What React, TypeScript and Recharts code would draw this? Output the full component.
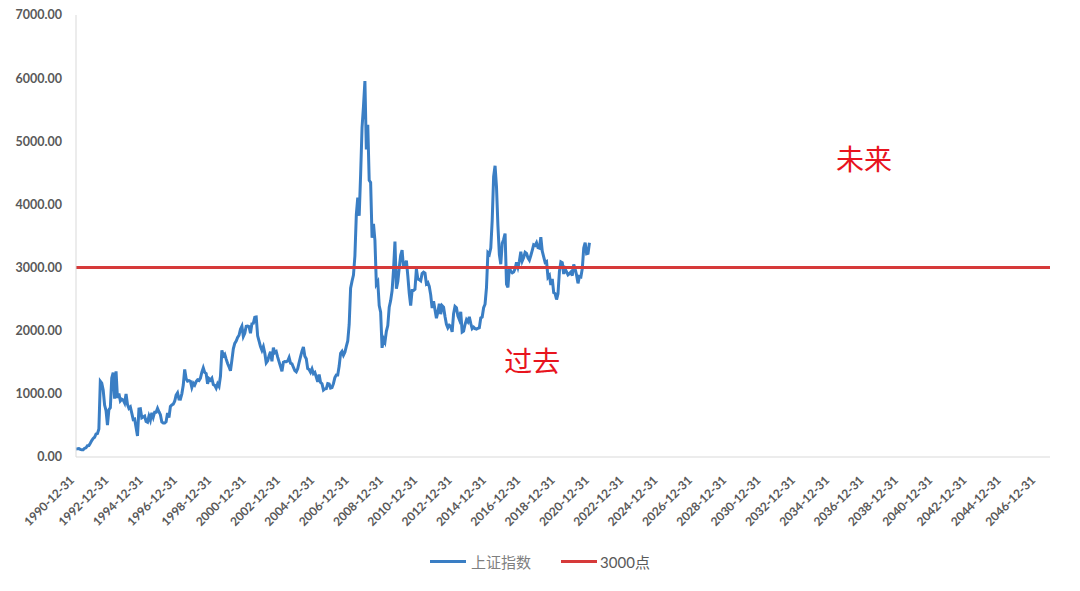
import { LineChart, Line, XAxis, YAxis, ReferenceLine, ReferenceDot } from "recharts"

// month-end closes of the Shanghai Composite, starting 1990-12
const closes1990s = [
  128,
  130, 133, 120, 114, 115, 138, 145, 178, 181, 219, 260, 293,
  313, 364, 370, 445, 1200, 1170, 1060, 823, 733, 507, 749, 780,
  1253, 1336, 925, 1358, 935, 1007, 888, 915, 902, 855, 1000, 833,
  770, 792, 694, 592, 600, 467, 334, 761, 765, 620, 633, 648,
  562, 550, 648, 582, 700, 630, 710, 710, 770, 716, 671, 555,
  538, 538, 558, 695, 625, 800, 824, 837, 883, 979, 1015, 917,
  915, 1000, 1140, 1387, 1240, 1202, 1210, 1200, 1100, 1168, 1139, 1194,
  1223, 1212, 1250, 1342, 1411, 1339, 1322, 1160, 1240, 1217, 1248, 1147,
  1134, 1090, 1158, 1120, 1279, 1689, 1601, 1627, 1550, 1480, 1428, 1367,
]

const closes2000s = [
  1535, 1714, 1800, 1836, 1894, 1928, 2023, 2072, 1911, 1961, 2070, 2073,
  2065, 1961, 2112, 2119, 2214, 2218, 1920, 1834, 1749, 1690, 1748, 1646,
  1491, 1524, 1603, 1667, 1515, 1732, 1651, 1669, 1581, 1507, 1434, 1358,
  1500, 1511, 1510, 1521, 1576, 1487, 1476, 1421, 1367, 1349, 1397, 1497,
  1590, 1675, 1742, 1595, 1555, 1399, 1386, 1342, 1396, 1320, 1340, 1267,
  1191, 1306, 1181, 1160, 1060, 1080, 1083, 1162, 1155, 1092, 1099, 1161,
  1258, 1299, 1298, 1440, 1642, 1672, 1612, 1658, 1752, 1837, 2099, 2675,
  2786, 2881, 3183, 3841, 4109, 3820, 4471, 5218, 5552, 5954, 4871, 5262,
  4383, 4348, 3472, 3693, 3433, 2736, 2775, 2397, 2293, 1729, 1871, 1821,
  1991, 2082, 2373, 2477, 2632, 2959, 3412, 2667, 2779, 2996, 3195, 3277,
]

const closes2010s = [
  2989, 3051, 3109, 2870, 2592, 2398, 2638, 2638, 2656, 2979, 2820, 2808,
  2790, 2905, 2928, 2911, 2743, 2762, 2701, 2568, 2359, 2468, 2333, 2199,
  2292, 2428, 2262, 2396, 2373, 2225, 2103, 2047, 2086, 2069, 1980, 2269,
  2385, 2365, 2237, 2177, 2300, 1979, 1994, 2098, 2175, 2141, 2220, 2116,
  2033, 2056, 2033, 2026, 2039, 2048, 2202, 2217, 2364, 2420, 2683, 3235,
  3210, 3310, 3748, 4442, 4612, 4277, 3664, 3206, 3053, 3383, 3445, 3539,
  2738, 2688, 3004, 2938, 2917, 2930, 2979, 3085, 3005, 3100, 3250, 3104,
  3159, 3242, 3223, 3155, 3117, 3192, 3273, 3361, 3349, 3393, 3317, 3307,
  3481, 3259, 3169, 3082, 3095, 2847, 2876, 2725, 2821, 2603, 2588, 2494,
  2585, 2941, 3091, 3078, 2899, 2979, 2933, 2886, 2905, 2929, 2872, 3050,
]

const closes2020 = [2977, 2880, 2750, 2860, 2852, 2985, 3310, 3396, 3218, 3225, 3392]

const yTicks = [0, 1000, 2000, 3000, 4000, 5000, 6000, 7000]
// month index of every second year end, 1990-12 .. 2046-12
const xTicks = [0, 24, 48, 72, 96, 120, 144, 168, 192, 216, 240, 264, 288, 312, 336, 360, 384, 408, 432, 456, 480, 504, 528, 552, 576, 600, 624, 648, 672]

const level = 3000

const data = [...closes1990s, ...closes2000s, ...closes2010s, ...closes2020].map((v, i) => ({ i, close: v }))

const tickFont = { fontFamily: "Lato", fontSize: 12.5, fontWeight: 700, fill: "#595959" }

const XTick = (props: any) => {
  const { x, y, payload } = props
  const yr = 1990 + Math.round(payload.value / 12)
  const ax = x - 1
  const ay = y + 16
  return (
    <text x={ax} y={ay} textAnchor="end" transform={`rotate(-45, ${ax}, ${ay})`} {...tickFont} fontSize={12}>
      {yr}-12-31
    </text>
  )
}

export default function App() {
  return (
    <div style={{ position: "absolute", left: 0, top: 0, width: 1080, height: 591, background: "#fff" }}>
      <LineChart width={1080} height={591} data={data} margin={{ top: 15, right: 30, left: 0, bottom: 54 }}>
        <XAxis
          dataKey="i"
          type="number"
          domain={[0, 681]}
          ticks={xTicks}
          interval={0}
          height={80}
          tickLine={false}
          stroke="#d9d9d9"
          tick={<XTick />}
        />
        <YAxis
          type="number"
          domain={[0, 7000]}
          ticks={yTicks}
          width={76}
          tickLine={false}
          tickMargin={8}
          stroke="#d9d9d9"
          tick={tickFont}
          tickFormatter={(v: number) => v.toFixed(2)}
        />
        <Line dataKey="close" stroke="#3a7ec4" strokeWidth={3} dot={false} type="linear" isAnimationActive={false} />
        <ReferenceLine y={level} stroke="#d63a3a" strokeWidth={3} />
        <ReferenceDot x={319} y={1500} r={0} label={{ value: "过去", position: "center", fill: "#e8141e", fontSize: 28, fontFamily: "Noto Sans CJK SC" }} />
        <ReferenceDot x={551} y={4700} r={0} label={{ value: "未来", position: "center", fill: "#e8141e", fontSize: 28, fontFamily: "Noto Sans CJK SC" }} />
      </LineChart>
      <div style={{ position: "absolute", top: 551, left: 0, width: 1080, display: "flex", justifyContent: "center", alignItems: "center", fontFamily: "Lato, 'Noto Sans CJK SC'", fontSize: 15, color: "#595959" }}>
        <span style={{ display: "inline-block", width: 36, height: 3, background: "#3a7ec4", marginRight: 5 }} />
        <span style={{ color: "#7f7f7f", marginRight: 30 }}>上证指数</span>
        <span style={{ display: "inline-block", width: 36, height: 3, background: "#d63a3a", marginRight: 3 }} />
        <span>3000点</span>
      </div>
    </div>
  )
}
